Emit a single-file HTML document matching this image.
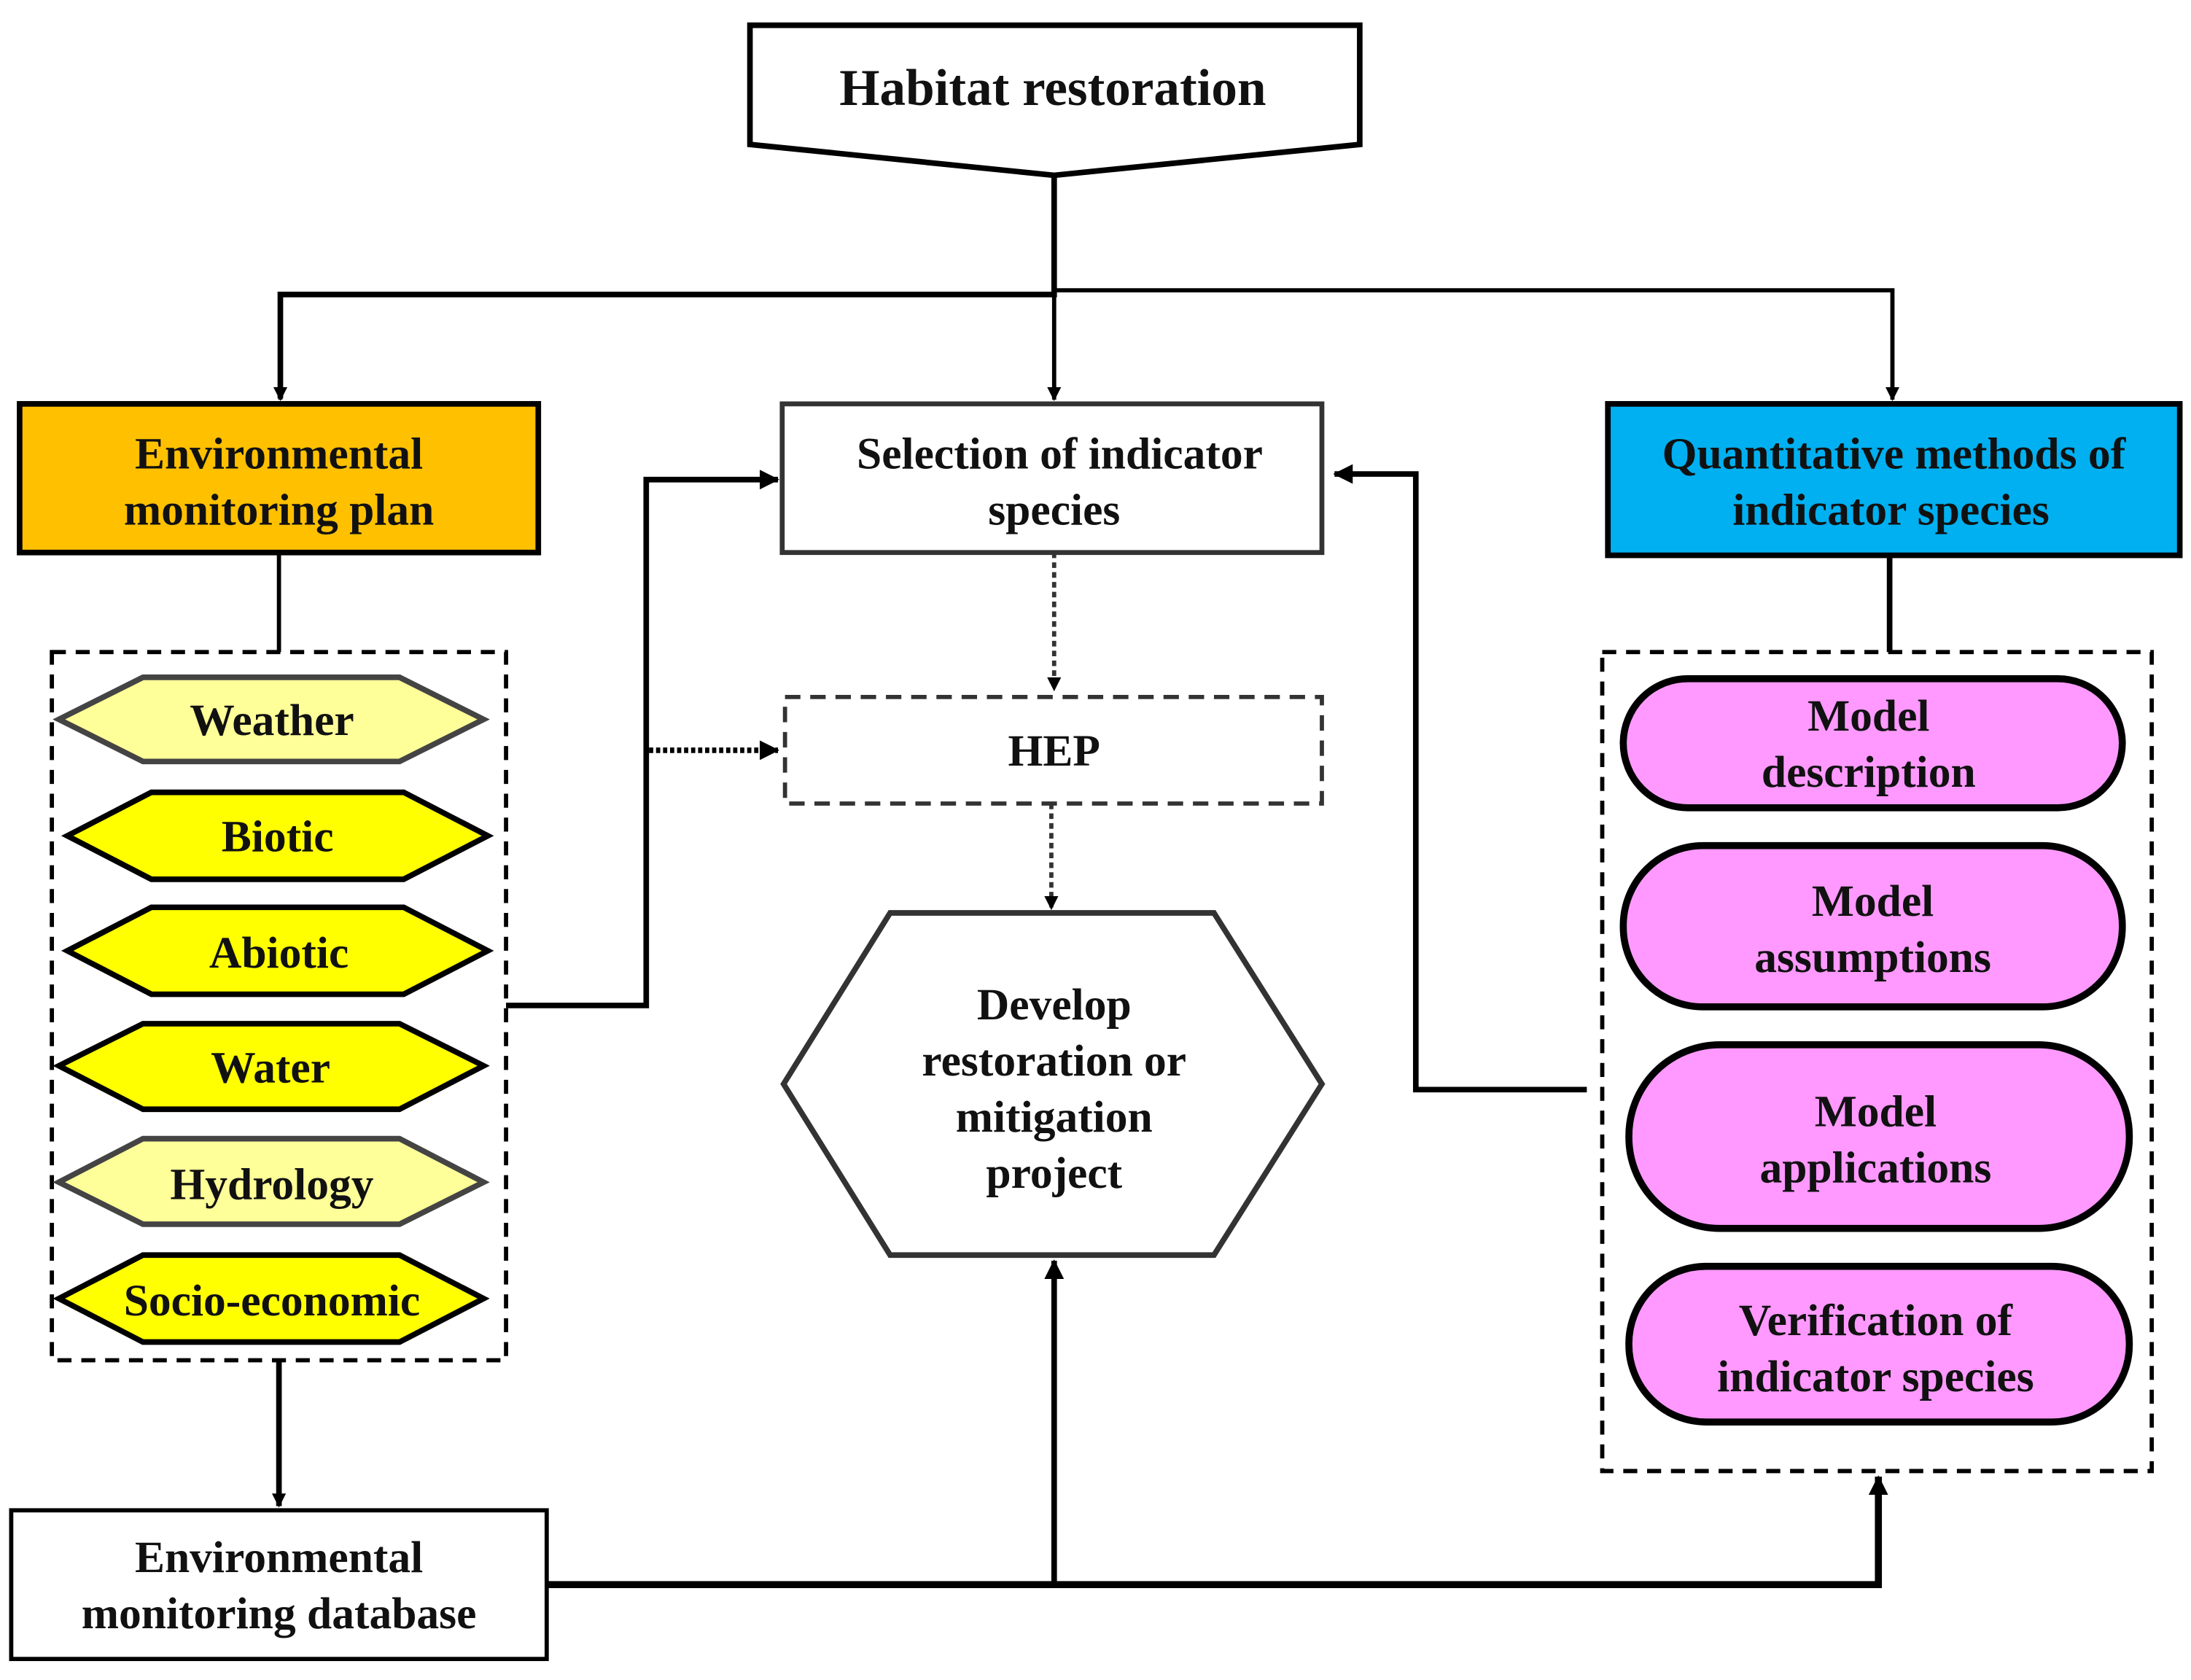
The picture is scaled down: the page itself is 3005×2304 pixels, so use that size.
<!DOCTYPE html>
<html><head><meta charset="utf-8"><style>
html,body{margin:0;padding:0;background:#fff}
svg{display:block}
text{font-family:"Liberation Serif",serif;font-weight:bold;font-size:32px;text-anchor:middle;fill:#111}
</style></head><body>
<svg width="3005" height="2304" viewBox="0 0 1563 1198" preserveAspectRatio="none" xmlns="http://www.w3.org/2000/svg">
<defs>
<marker id="a" markerWidth="10" markerHeight="10" refX="9" refY="5" orient="auto" markerUnits="userSpaceOnUse" viewBox="0 0 10 10"><path d="M0,0 L10,5 L0,10 z" fill="#000"/></marker>
<marker id="b" markerWidth="14" markerHeight="14" refX="13" refY="7" orient="auto" markerUnits="userSpaceOnUse" viewBox="0 0 14 14"><path d="M0,0 L14,7 L0,14 z" fill="#000"/></marker>
</defs>
<polygon points="535,18 970,18 970,103 752,125 535,103" fill="#fff" stroke="#000" stroke-width="4"/>
<text x="751" y="75" style="font-size:37px">Habitat restoration</text>
<line x1="752" y1="125" x2="752" y2="212" stroke="#000" stroke-width="4"/>
<polyline points="200,284 200,210 752,210" fill="none" stroke="#000" stroke-width="4" />
<line x1="200" y1="230" x2="200" y2="285" stroke="#000" stroke-width="3" marker-end="url(#a)"/>
<polyline points="752,207 1350,207 1350,285" fill="none" stroke="#000" stroke-width="3" marker-end="url(#a)"/>
<line x1="752" y1="210" x2="752" y2="285" stroke="#000" stroke-width="3" marker-end="url(#a)"/>
<rect x="14" y="288" width="370" height="106" fill="#FFC000" stroke="#000" stroke-width="4"/>
<text x="199" y="334">Environmental</text><text x="199" y="374">monitoring plan</text>
<rect x="558" y="288" width="385" height="106" fill="#fff" stroke="#333" stroke-width="3.5"/>
<text x="756" y="334">Selection of indicator</text><text x="752" y="374">species</text>
<rect x="1147" y="288" width="408" height="108" fill="#00B0F0" stroke="#000" stroke-width="4"/>
<text x="1351" y="334">Quantitative methods of</text><text x="1349" y="374">indicator species</text>
<line x1="199" y1="394" x2="199" y2="465" stroke="#000" stroke-width="3"/>
<rect x="37" y="465" width="324" height="505" fill="none" stroke="#000" stroke-width="3" stroke-dasharray="10,7"/>
<g stroke-width="4">
<polygon points="42,513 102,483 285,483 345,513 285,543 102,543" fill="#FFFF99" stroke="#444"/>
<polygon points="48,596 108,565 288,565 348,596 288,627 108,627" fill="#FFFF00" stroke="#000"/>
<polygon points="48,678 108,647 288,647 348,678 288,709 108,709" fill="#FFFF00" stroke="#000"/>
<polygon points="42,760 102,730 285,730 345,760 285,791 102,791" fill="#FFFF00" stroke="#000"/>
<polygon points="42,843 102,812 285,812 345,843 285,873 102,873" fill="#FFFF99" stroke="#444"/>
<polygon points="42,926 102,895 285,895 345,926 285,957 102,957" fill="#FFFF00" stroke="#000"/>
</g>
<text x="194" y="524">Weather</text>
<text x="198" y="607">Biotic</text>
<text x="199" y="690">Abiotic</text>
<text x="193" y="772">Water</text>
<text x="194" y="855">Hydrology</text>
<text x="194" y="938">Socio-economic</text>
<line x1="199" y1="970" x2="199" y2="1074" stroke="#000" stroke-width="4" marker-end="url(#a)"/>
<rect x="8" y="1077" width="382" height="106" fill="#fff" stroke="#000" stroke-width="3"/>
<text x="199" y="1121">Environmental</text><text x="199" y="1161">monitoring database</text>
<polyline points="361,717 461,717 461,342 555,342" fill="none" stroke="#000" stroke-width="4" marker-end="url(#b)"/>
<line x1="463" y1="535" x2="555" y2="535" stroke="#000" stroke-width="4" stroke-dasharray="3,2" marker-end="url(#b)"/>
<line x1="752" y1="394" x2="752" y2="492" stroke="#333" stroke-width="3" stroke-dasharray="4,3" marker-end="url(#a)"/>
<rect x="560" y="497" width="383" height="76" fill="#fff" stroke="#333" stroke-width="3" stroke-dasharray="11,7"/>
<text x="752" y="546">HEP</text>
<line x1="750" y1="573" x2="750" y2="648" stroke="#333" stroke-width="3" stroke-dasharray="4,3" marker-end="url(#a)"/>
<polygon points="635,651 866,651 943,773 866,895 635,895 559,773" fill="#fff" stroke="#333" stroke-width="4"/>
<text x="752" y="727">Develop</text><text x="752" y="767">restoration or</text><text x="752" y="807">mitigation</text><text x="752" y="847">project</text>
<polyline points="390,1130 1340,1130 1340,1053" fill="none" stroke="#000" stroke-width="5" marker-end="url(#b)"/>
<line x1="752" y1="1130" x2="752" y2="899" stroke="#000" stroke-width="4" marker-end="url(#b)"/>
<line x1="1348" y1="396" x2="1348" y2="465" stroke="#000" stroke-width="4"/>
<rect x="1143" y="465" width="392" height="584" fill="none" stroke="#000" stroke-width="3" stroke-dasharray="10,7"/>
<g fill="#FF99FF" stroke="#000" stroke-width="5">
<rect x="1158" y="484" width="356" height="92" rx="46"/>
<rect x="1158" y="603" width="356" height="115" rx="57"/>
<rect x="1162" y="745" width="357" height="131" rx="65"/>
<rect x="1162" y="903" width="357" height="111" rx="55"/>
</g>
<text x="1333" y="521">Model</text><text x="1333" y="561">description</text>
<text x="1336" y="653">Model</text><text x="1336" y="693">assumptions</text>
<text x="1338" y="803">Model</text><text x="1338" y="843">applications</text>
<text x="1338" y="952">Verification of</text><text x="1338" y="992">indicator species</text>
<polyline points="1132,777 1010,777 1010,338 952,338" fill="none" stroke="#000" stroke-width="4" marker-end="url(#b)"/>
</svg>
</body></html>
